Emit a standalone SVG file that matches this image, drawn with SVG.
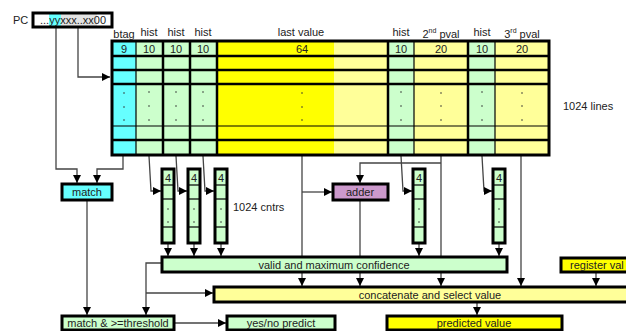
<svg xmlns="http://www.w3.org/2000/svg" width="626" height="331" viewBox="0 0 626 331">
<style>
text{font-family:"Liberation Sans",Arial,sans-serif;font-size:11px;fill:#222}
.c{text-anchor:middle}
.box{stroke:#000;stroke-width:3}
.cy{fill:#66FFFF}.gr{fill:#CCFFCC}.ye{fill:#FFFF00}.ly{fill:#FFFF99}.pu{fill:#CC99CC}
.w{fill:none;stroke:#444;stroke-width:1.3}
.a{marker-end:url(#ah)}
.tk{stroke:#000;stroke-width:2.5}
.tn{stroke:#000;stroke-width:1.2}
.dot{fill:#333}
</style>
<defs>
<marker id="ah" viewBox="0 0 8 8" refX="8" refY="4" markerWidth="8" markerHeight="8" markerUnits="userSpaceOnUse" orient="auto">
<path d="M0,0 L8,4 L0,8 z" fill="#000"/>
</marker>
<g id="cnt">
<rect x="0" y="0" width="12" height="74" class="gr"/>
<line x1="0" y1="16" x2="12" y2="16" class="tn"/>
<line x1="0" y1="30" x2="12" y2="30" class="tn"/>
<line x1="0" y1="58" x2="12" y2="58" class="tn"/>
<rect x="0" y="0" width="12" height="74" fill="none" class="box"/>
<text x="6" y="12.5" class="c">4</text>
<circle cx="6" cy="40" r="0.8" class="dot"/>
<circle cx="6" cy="53" r="0.8" class="dot"/>
</g>
</defs>
<rect width="626" height="331" fill="#fff"/>

<g id="connectors">
<polyline class="w a" points="56,28 56,169 77,169 77,183"/>
<polyline class="w a" points="78,28 78,77 110,77"/>
<polyline class="w a" points="123,156 123,169 97,169 97,183"/>
<polyline class="w a" points="87,201 87,315"/>
<polyline class="w a" points="175,323 226,323"/>
<polyline class="w a" points="149,156 151,191 161,191"/>
<polyline class="w a" points="176,156 178,191 187,191"/>
<polyline class="w a" points="203,156 205,191 214,191"/>
<polyline class="w a" points="401,156 403,191 412,191"/>
<polyline class="w a" points="482,156 484,191 492,191"/>
<polyline class="w a" points="168,244 168,256"/>
<polyline class="w a" points="194,244 194,256"/>
<polyline class="w a" points="221,244 221,256"/>
<polyline class="w a" points="419,244 419,256"/>
<polyline class="w a" points="499,244 499,256"/>
<polyline class="w a" points="302,156 302,286"/>
<polyline class="w a" points="302,192 332,192"/>
<polyline class="w a" points="441,156 441,286"/>
<polyline class="w a" points="441,163 360,163 360,183"/>
<polyline class="w a" points="360,201 360,286"/>
<polyline class="w a" points="521,156 521,286"/>
<polyline class="w a" points="596,273 596,286"/>
<polyline class="w a" points="161,263 146,263 146,315"/>
<polyline class="w a" points="146,293 213,293"/>
<polyline class="w a" points="477,303 477,315"/>
</g>

<g id="pc">
<text x="13" y="24">PC</text>
<rect x="33" y="13" width="79" height="14" fill="#fff"/>
<rect x="49" y="13" width="12" height="14" class="cy"/>
<rect x="61" y="13" width="36" height="14" fill="#E3E3E3"/>
<rect x="33" y="13" width="79" height="14" fill="none" class="box"/>
<text x="40" y="24">...yyxxx..xx00</text>
</g>

<g id="table">
<rect x="112" y="41" width="24" height="114" class="cy"/>
<rect x="136" y="41" width="81" height="114" class="gr"/>
<rect x="217" y="41" width="117" height="114" class="ye"/>
<rect x="334" y="41" width="54" height="114" class="ly"/>
<rect x="388" y="41" width="26" height="114" class="gr"/>
<rect x="414" y="41" width="54" height="114" class="ly"/>
<rect x="468" y="41" width="27" height="114" class="gr"/>
<rect x="495" y="41" width="54" height="114" class="ly"/>
<line x1="112" y1="56" x2="549" y2="56" class="tk"/>
<line x1="112" y1="70" x2="549" y2="70" class="tk"/>
<line x1="112" y1="84" x2="549" y2="84" class="tk"/>
<line x1="112" y1="126" x2="549" y2="126" class="tn"/>
<line x1="112" y1="140" x2="549" y2="140" class="tk"/>
<line x1="136" y1="41" x2="136" y2="155" class="tn"/>
<line x1="414" y1="41" x2="414" y2="155" class="tn"/>
<line x1="495" y1="41" x2="495" y2="155" class="tn"/>
<line x1="163" y1="41" x2="163" y2="155" class="tk"/>
<line x1="190" y1="41" x2="190" y2="155" class="tk"/>
<line x1="217" y1="41" x2="217" y2="155" class="tk"/>
<line x1="388" y1="41" x2="388" y2="155" class="tk"/>
<line x1="468" y1="41" x2="468" y2="155" class="tk"/>
<rect x="112" y="41" width="437" height="114" fill="none" class="box"/>
<text x="124" y="38" class="c">btag</text>
<text x="149" y="36" class="c">hist</text>
<text x="176" y="36" class="c">hist</text>
<text x="203" y="36" class="c">hist</text>
<text x="301" y="36" class="c">last value</text>
<text x="401" y="36" class="c">hist</text>
<text x="441" y="38" class="c">2<tspan dy="-5" font-size="7">nd</tspan><tspan dy="5"> pval</tspan></text>
<text x="482" y="36" class="c">hist</text>
<text x="522" y="38" class="c">3<tspan dy="-5" font-size="7">rd</tspan><tspan dy="5"> pval</tspan></text>
<text x="124" y="53" class="c">9</text>
<text x="149" y="53" class="c">10</text>
<text x="176" y="53" class="c">10</text>
<text x="203" y="53" class="c">10</text>
<text x="302" y="53" class="c">64</text>
<text x="401" y="53" class="c">10</text>
<text x="441" y="53" class="c">20</text>
<text x="482" y="53" class="c">10</text>
<text x="522" y="53" class="c">20</text>
<g class="dot">
<circle cx="124" cy="93" r="0.8"/><circle cx="124" cy="107" r="0.8"/><circle cx="124" cy="120" r="0.8"/>
<circle cx="149" cy="92" r="0.8"/><circle cx="149" cy="106" r="0.8"/><circle cx="149" cy="120" r="0.8"/>
<circle cx="176" cy="92" r="0.8"/><circle cx="176" cy="106" r="0.8"/><circle cx="176" cy="120" r="0.8"/>
<circle cx="203" cy="92" r="0.8"/><circle cx="203" cy="106" r="0.8"/><circle cx="203" cy="120" r="0.8"/>
<circle cx="302" cy="93" r="0.8"/><circle cx="302" cy="107" r="0.8"/><circle cx="302" cy="120" r="0.8"/>
<circle cx="401" cy="92" r="0.8"/><circle cx="401" cy="106" r="0.8"/><circle cx="401" cy="120" r="0.8"/>
<circle cx="441" cy="93" r="0.8"/><circle cx="441" cy="106" r="0.8"/><circle cx="441" cy="120" r="0.8"/>
<circle cx="482" cy="92" r="0.8"/><circle cx="482" cy="106" r="0.8"/><circle cx="482" cy="120" r="0.8"/>
<circle cx="522" cy="93" r="0.8"/><circle cx="522" cy="106" r="0.8"/><circle cx="522" cy="120" r="0.8"/>
</g>
<text x="563" y="110">1024 lines</text>
</g>

<g id="match">
<rect x="62" y="184" width="50" height="16" class="box cy"/>
<text x="87" y="196" class="c">match</text>
</g>

<g id="counters">
<use href="#cnt" x="162" y="169"/>
<use href="#cnt" x="188" y="169"/>
<use href="#cnt" x="215" y="169"/>
<use href="#cnt" x="413" y="169"/>
<use href="#cnt" x="493" y="169"/>
<text x="233" y="211">1024 cntrs</text>
</g>

<g id="adder">
<rect x="333" y="184" width="55" height="16" class="box pu"/>
<text x="360" y="196" class="c">adder</text>
</g>

<g id="valid">
<rect x="162" y="257" width="345" height="15" class="box gr"/>
<text x="334" y="268.5" class="c">valid and maximum confidence</text>
</g>

<g id="register">
<rect x="561" y="258" width="80" height="14" class="box ye"/>
<text x="570" y="269">register val</text>
</g>

<g id="concat">
<rect x="214" y="287" width="432" height="15" class="box ly"/>
<text x="430" y="298.5" class="c">concatenate and select value</text>
</g>

<g id="threshold">
<rect x="62" y="316" width="112" height="14" class="box gr"/>
<text x="118" y="327" class="c">match &amp; &gt;=threshold</text>
</g>

<g id="yesno">
<rect x="227" y="316" width="108" height="14" class="box gr"/>
<text x="281" y="327" class="c">yes/no predict</text>
</g>

<g id="predicted">
<rect x="387" y="316" width="175" height="14" class="box ye"/>
<text x="474" y="327" class="c">predicted value</text>
</g>
</svg>
